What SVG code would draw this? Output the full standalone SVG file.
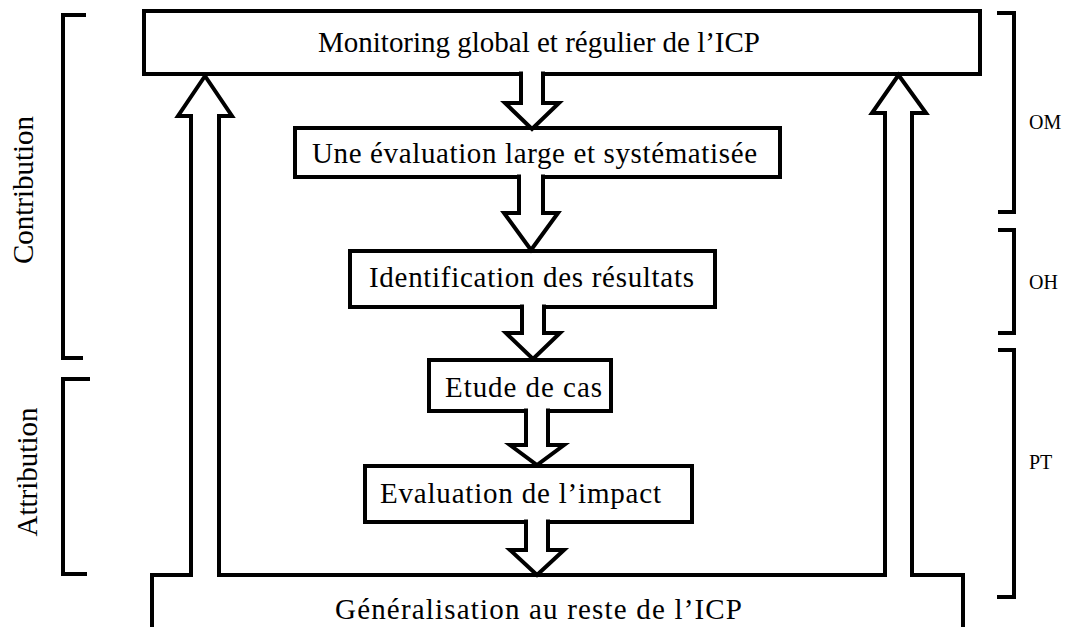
<svg xmlns="http://www.w3.org/2000/svg" width="1073" height="627" viewBox="0 0 1073 627">
  <style>
    .box { fill: #fff; stroke: #000; stroke-width: 4; }
    .arrow { fill: #fff; stroke: #000; stroke-width: 4; stroke-linejoin: miter; }
    .bracket { fill: none; stroke: #000; stroke-width: 4; stroke-linejoin: miter; }
    .label { font-family: "Liberation Serif", "Times New Roman", serif; font-size: 29px; fill: #000; }
    .side { font-family: "Liberation Serif", "Times New Roman", serif; font-size: 20px; fill: #000; }
  </style>

  <!-- Top-level monitoring box -->
  <g id="node-monitoring">
    <rect class="box" x="144" y="11" width="836" height="63"/>
    <text class="label" x="318" y="52" textLength="442" lengthAdjust="spacing">Monitoring global et régulier de l’ICP</text>
  </g>

  <g id="node-evaluation-large">
    <rect class="box" x="295" y="128" width="485" height="49"/>
    <text class="label" x="312" y="163" textLength="445" lengthAdjust="spacing">Une évaluation large et systématisée</text>
  </g>

  <g id="node-identification">
    <rect class="box" x="350" y="251" width="365" height="56"/>
    <text class="label" x="369" y="287" textLength="325" lengthAdjust="spacing">Identification des résultats</text>
  </g>

  <g id="node-etude">
    <rect class="box" x="429" y="360" width="182" height="51"/>
    <text class="label" x="445" y="397" textLength="157" lengthAdjust="spacing">Etude de cas</text>
  </g>

  <g id="node-impact">
    <rect class="box" x="365" y="466" width="327" height="56"/>
    <text class="label" x="380" y="503" textLength="281" lengthAdjust="spacing">Evaluation de l’impact</text>
  </g>

  <!-- Bottom box whose walls rise as the two feedback arrows -->
  <g id="node-generalisation">
    <path class="arrow" d="M152,632 V575 H191 V116 H178 L205,76 L232,116 H219 V575 H885 V113 H872 L898.5,75 L926,113 H912 V575 H963 V632"/>
    <text class="label" x="335" y="619" textLength="407" lengthAdjust="spacing">Généralisation au reste de l’ICP</text>
  </g>

  <!-- Hollow down arrows between the stages -->
  <g id="connectors">
    <path class="arrow" d="M521,71.5 V103 H505 L532,129 L559,103 H543 V71.5"/>
    <path class="arrow" d="M519,174.5 V213 H504 L531,250 L558,213 H543 V174.5"/>
    <path class="arrow" d="M522,304.5 V333 H506 L533,359 L560,333 H544 V304.5"/>
    <path class="arrow" d="M526,408.5 V445 H510 L537,465 L564,445 H548 V408.5"/>
    <path class="arrow" d="M526,519.5 V550 H510 L537,575 L564,550 H548 V519.5"/>
  </g>

  <!-- Left-side brackets -->
  <g id="bracket-contribution">
    <path class="bracket" d="M86,15 H63 V358 H83"/>
    <text class="label" transform="translate(33,190) rotate(-90)" text-anchor="middle">Contribution</text>
  </g>
  <g id="bracket-attribution">
    <path class="bracket" d="M90,379 H63 V574 H87"/>
    <text class="label" transform="translate(37,472) rotate(-90)" text-anchor="middle">Attribution</text>
  </g>

  <!-- Right-side brackets -->
  <g id="bracket-om">
    <path class="bracket" d="M997,13 H1014 V212 H998"/>
    <text class="side" x="1029" y="129">OM</text>
  </g>
  <g id="bracket-oh">
    <path class="bracket" d="M998,230 H1014 V333 H998"/>
    <text class="side" x="1029" y="289">OH</text>
  </g>
  <g id="bracket-pt">
    <path class="bracket" d="M998,350 H1014 V597 H997"/>
    <text class="side" x="1029" y="469">PT</text>
  </g>
</svg>
